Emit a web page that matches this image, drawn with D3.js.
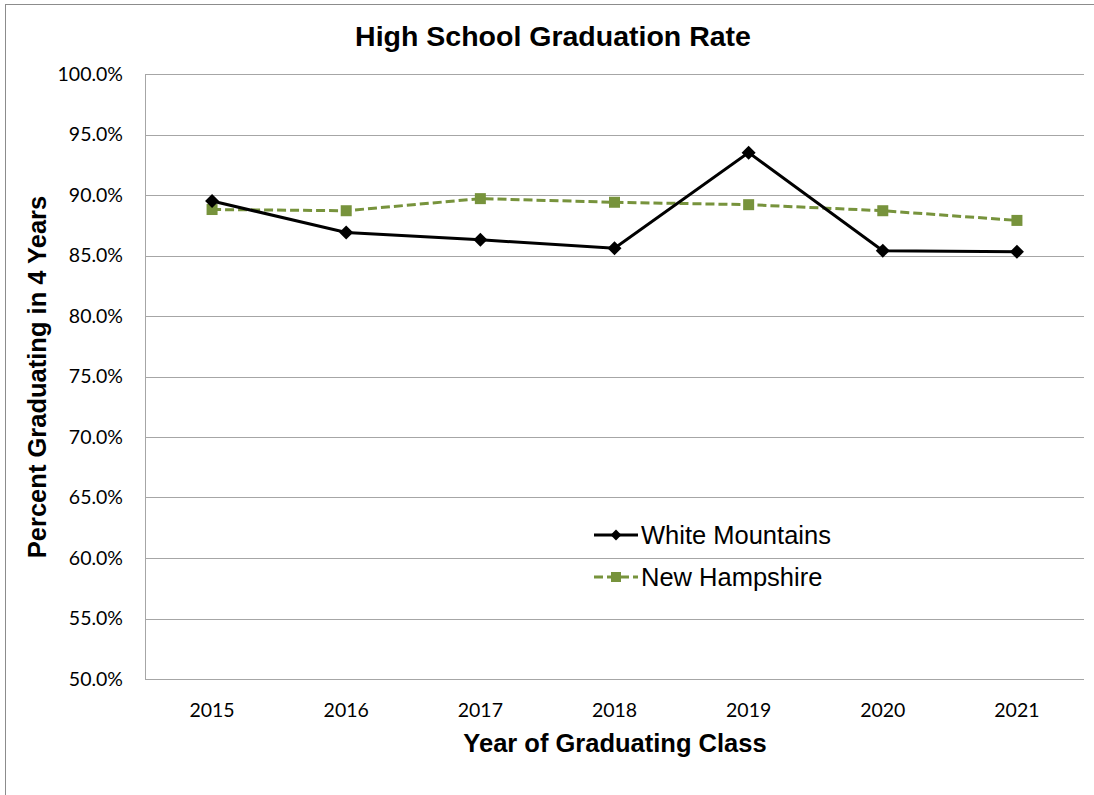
<!DOCTYPE html>
<html>
<head>
<meta charset="utf-8">
<script src="https://cdn.jsdelivr.net/npm/d3@7"></script>
<style>
  body { margin: 0; background: #fff; }
</style>
</head>
<body>
<div id="vis"></div>
<script>
const WIDTH = 1094;
const HEIGHT = 795;

// datos
const years = ["2015", "2016", "2017", "2018", "2019", "2020", "2021"];
const whiteMountains = [89.5, 86.9, 86.3, 85.6, 93.5, 85.4, 85.3];
const newHampshire = [88.8, 88.7, 89.7, 89.4, 89.2, 88.7, 87.9];
const yTicks = [50, 55, 60, 65, 70, 75, 80, 85, 90, 95, 100];

const SVG = d3.select("#vis").append("svg")
  .attr("width", WIDTH).attr("height", HEIGHT);

// borde exterior del grafico
SVG.append("rect")
  .attr("x", 5.5).attr("y", 4.5)
  .attr("width", WIDTH + 10).attr("height", HEIGHT + 10)
  .attr("fill", "white").attr("stroke", "#8c8c8c");

const plot = { left: 145, right: 1084, top: 74, bottom: 679 };

const x = d3.scaleBand().domain(years).range([plot.left, plot.right]);
const y = d3.scaleLinear().domain([50, 100]).range([plot.bottom, plot.top]);

// grilla horizontal
SVG.append("g")
  .selectAll("line")
  .data(yTicks)
  .join("line")
  .attr("x1", plot.left).attr("x2", plot.right)
  .attr("y1", d => Math.round(y(d)) + 0.5).attr("y2", d => Math.round(y(d)) + 0.5)
  .attr("stroke", "#a6a6a6").attr("stroke-width", 1);

// eje y
SVG.append("line")
  .attr("x1", plot.left + 0.5).attr("x2", plot.left + 0.5)
  .attr("y1", plot.top).attr("y2", plot.bottom + 0.5)
  .attr("stroke", "#a6a6a6");

SVG.append("g")
  .selectAll("text")
  .data(yTicks)
  .join("text")
  .attr("x", 123)
  .attr("y", d => y(d))
  .attr("dy", "0.35em")
  .attr("text-anchor", "end")
  .style("font-family", "Lato, 'Open Sans', sans-serif")
  .style("font-size", "19.5px")
  .attr("fill", "#000")
  .text(d => d.toFixed(1) + "%");

SVG.append("g")
  .selectAll("text")
  .data(years)
  .join("text")
  .attr("x", d => x(d) + x.bandwidth() / 2)
  .attr("y", 717)
  .attr("text-anchor", "middle")
  .style("font-family", "Lato, 'Open Sans', sans-serif")
  .style("font-size", "19.5px")
  .attr("fill", "#000")
  .text(d => d);

// titulos
SVG.append("text")
  .attr("x", 553).attr("y", 46)
  .attr("text-anchor", "middle")
  .style("font-family", "'Liberation Sans', Arial, sans-serif")
  .style("font-weight", "bold").style("font-size", "28.5px")
  .text("High School Graduation Rate");

SVG.append("text")
  .attr("x", 615).attr("y", 752)
  .attr("text-anchor", "middle")
  .style("font-family", "'Liberation Sans', Arial, sans-serif")
  .style("font-weight", "bold").style("font-size", "25.5px")
  .text("Year of Graduating Class");

SVG.append("text")
  .attr("transform", "translate(46, 377) rotate(-90)")
  .attr("text-anchor", "middle")
  .style("font-family", "'Liberation Sans', Arial, sans-serif")
  .style("font-weight", "bold").style("font-size", "25.5px")
  .text("Percent Graduating in 4 Years");

const cx = (d, i) => x(years[i]) + x.bandwidth() / 2;
const line = d3.line().x((d, i) => cx(d, i)).y(d => y(d));

const GREEN = "#77933c";

// New Hampshire (debajo)
SVG.append("path")
  .datum(newHampshire)
  .attr("d", line)
  .attr("fill", "none")
  .attr("stroke", GREEN)
  .attr("stroke-width", 3)
  .attr("stroke-dasharray", "9,4");

SVG.append("g")
  .selectAll("rect")
  .data(newHampshire)
  .join("rect")
  .attr("x", (d, i) => cx(d, i) - 5.5)
  .attr("y", d => y(d) - 5.5)
  .attr("width", 11).attr("height", 11)
  .attr("fill", GREEN);

// White Mountains
SVG.append("path")
  .datum(whiteMountains)
  .attr("d", line)
  .attr("fill", "none")
  .attr("stroke", "#000")
  .attr("stroke-width", 3);

const diamond = d3.symbol().type(d3.symbolDiamond2).size(125);
SVG.append("g")
  .selectAll("path")
  .data(whiteMountains)
  .join("path")
  .attr("transform", (d, i) => `translate(${cx(d, i)},${y(d)})`)
  .attr("d", diamond)
  .attr("fill", "#000");

// leyenda
const legend = SVG.append("g");
const items = [
  { name: "White Mountains", color: "#000", dash: null, y: 535 },
  { name: "New Hampshire", color: GREEN, dash: "9,4", y: 577 }
];
items.forEach((it, k) => {
  legend.append("line")
    .attr("x1", 594).attr("x2", 638)
    .attr("y1", it.y).attr("y2", it.y)
    .attr("stroke", it.color).attr("stroke-width", 3)
    .attr("stroke-dasharray", it.dash);
  if (k === 0) {
    legend.append("path")
      .attr("transform", `translate(616,${it.y})`)
      .attr("d", d3.symbol().type(d3.symbolDiamond2).size(75))
      .attr("fill", it.color);
  } else {
    legend.append("rect")
      .attr("x", 611).attr("y", it.y - 5)
      .attr("width", 10).attr("height", 10)
      .attr("fill", it.color);
  }
  legend.append("text")
    .attr("x", 641).attr("y", it.y)
    .attr("dy", "0.35em")
    .style("font-family", "'Liberation Sans', Arial, sans-serif")
    .style("font-size", "25.5px")
    .text(it.name);
});
</script>
</body>
</html>
